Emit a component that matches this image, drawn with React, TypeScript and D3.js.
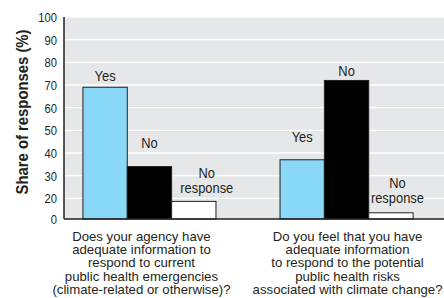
import React, { useRef, useEffect } from 'react';
import * as d3 from 'd3';

const questions = ['q1', 'q2'];
const questionLines = [
  ['Does your agency have', 'adequate information to', 'respond to current', 'public health emergencies', '(climate-related or otherwise)?'],
  ['Do you feel that you have', 'adequate information', 'to respond to the potential', 'public health risks', 'associated with climate change?'],
];
const responses = ['Yes', 'No', 'No response'];
const q1Values = [69, 34, 17];
const q2Values = [37, 72, 6];
const yTicks = [0, 20, 30, 40, 50, 60, 70, 80, 90, 100];
const colors = ['#8ad8f7', '#000000', '#ffffff'];

const W = 444;
const H = 298;
const FONT = '"Liberation Sans", Arial, sans-serif';
const INK = '#231f20';

// narrow type: squeeze a text horizontally around its anchor point
const placeText = (sel, x, y, sx) =>
  sel.attr('transform', `translate(${x},${y}) scale(${sx},1)`);

const App = () => {
  const svgRef = useRef(null);

  useEffect(() => {
    const svg = d3.select(svgRef.current);
    svg.selectAll('*').remove();

    const left = 64, right = 444, top = 17, bottom = 219;

    // the original axis squeezes 0-20 into one step (no 10 label)
    const y = d3.scaleLinear().domain([0, 20, 100]).range([bottom, 198.3, top]);
    const x0 = d3.scaleBand().domain(questions).range([left, 432]).paddingInner(0.325).paddingOuter(0.096);
    const x1 = d3.scaleBand().domain(responses).range([0, x0.bandwidth()]);

    svg.append('rect')
      .attr('x', left).attr('y', top)
      .attr('width', right - left).attr('height', bottom - top)
      .attr('fill', '#e6e7e8');

    svg.append('g')
      .selectAll('line')
      .data(yTicks.filter(d => d > 0))
      .join('line')
      .attr('x1', left).attr('x2', right)
      .attr('y1', d => y(d)).attr('y2', d => y(d))
      .attr('stroke', '#ffffff').attr('stroke-width', 1.3);

    svg.append('g')
      .selectAll('text')
      .data(yTicks)
      .join('text')
      .each(function (d) { placeText(d3.select(this), 57, y(d), 0.83); })
      .attr('dy', '0.36em')
      .attr('text-anchor', 'end')
      .attr('font-family', FONT).attr('font-size', 13.5)
      .attr('fill', INK)
      .text(d => d);

    svg.append('text')
      .attr('transform', `translate(27.5,112) rotate(-90) scale(0.9,1)`)
      .attr('text-anchor', 'middle')
      .attr('font-family', FONT).attr('font-size', 16.5).attr('font-weight', 'bold')
      .attr('fill', INK)
      .text('Share of responses (%)');

    const series = [q1Values, q2Values];
    // label nudges (dx, dy) per question/response, as placed in the original
    const labelNudge = [
      [[0, -6], [0, -19], [13, -8]],
      [[0, -18], [0, -4], [6.5, -10]],
    ];

    questions.forEach((q, qi) => {
      const g = svg.append('g').attr('transform', `translate(${x0(q)},0)`);
      g.selectAll('rect')
        .data(series[qi])
        .join('rect')
        .attr('x', (d, i) => x1(responses[i]))
        .attr('y', d => y(d))
        .attr('width', x1.bandwidth())
        .attr('height', d => bottom - y(d))
        .attr('fill', (d, i) => colors[i])
        .attr('stroke', INK).attr('stroke-width', 1);

      series[qi].forEach((v, i) => {
        const cx = x1(responses[i]) + x1.bandwidth() / 2 + labelNudge[qi][i][0];
        const by = y(v) + labelNudge[qi][i][1];
        const lines = responses[i] === 'No response' ? ['No', 'response'] : [responses[i]];
        const t = g.append('text')
          .call(placeText, cx, by, 0.86)
          .attr('text-anchor', 'middle')
          .attr('font-family', FONT).attr('font-size', 15)
          .attr('fill', INK);
        lines.forEach((l, li) => {
          t.append('tspan')
            .attr('x', 0)
            .attr('y', -(lines.length - 1 - li) * 15)
            .text(l);
        });
      });

      const cx = x0(q) + x0.bandwidth() / 2 + (qi === 0 ? -8 : 1);
      const qt = svg.append('text')
        .attr('text-anchor', 'middle')
        .attr('font-family', FONT).attr('font-size', 13.2)
        .attr('fill', INK);
      qt.selectAll('tspan')
        .data(questionLines[qi])
        .join('tspan')
        .attr('x', cx)
        .attr('y', (d, i) => 241 + i * 13.2)
        .text(d => d);
    });

    svg.append('line')
      .attr('x1', left).attr('x2', left)
      .attr('y1', top).attr('y2', bottom)
      .attr('stroke', INK).attr('stroke-width', 1.5);
    svg.append('line')
      .attr('x1', left).attr('x2', right)
      .attr('y1', bottom).attr('y2', bottom)
      .attr('stroke', INK).attr('stroke-width', 1.5);
  }, []);

  return (
    <svg ref={svgRef} width={W} height={H} style={{ position: 'absolute', left: 0, top: 0 }} />
  );
};

export default App;
